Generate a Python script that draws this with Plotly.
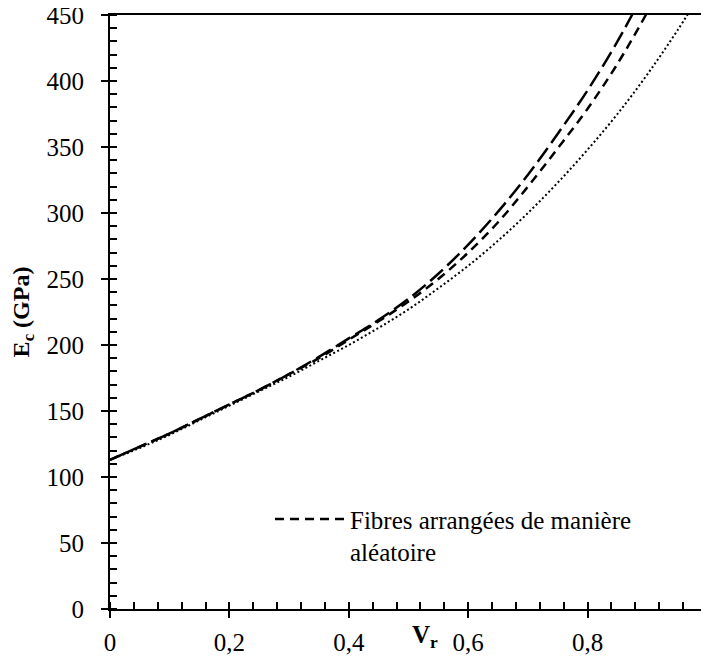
import plotly.graph_objects as go

# Data
vr = [0.0, 0.05, 0.10, 0.15, 0.20, 0.25, 0.30, 0.35, 0.40, 0.45, 0.50,
      0.55, 0.60, 0.65, 0.70, 0.75, 0.80, 0.85, 0.90, 0.95, 1.0]

ec_long = [113, 123, 133, 144, 155, 166, 178, 191, 205, 219, 235,
           254, 276, 301, 329, 360, 393, 430, 472, None, None]
ec_short = [113, 123, 133, 144, 155, 166, 178, 190, 204, 218, 233,
            250, 270, 293, 320, 349, 379, 413, 452, None, None]
ec_dot = [113, 122, 132, 143, 154, 165, 176, 188, 200, 213, 227,
          243, 260, 279, 300, 323, 348, 375, 405, 438, 474]

x_tickvals = [0, 0.2, 0.4, 0.6, 0.8, 1]
x_ticktext = ["0", "0,2", "0,4", "0,6", "0,8", "1"]
y_tickvals = [0, 50, 100, 150, 200, 250, 300, 350, 400, 450]

legend_label = "Fibres arrangées de manière<br>aléatoire"

FONT = "Liberation Serif, Times New Roman, DejaVu Serif, serif"

fig = go.Figure()
fig.add_trace(go.Scatter(x=vr, y=ec_long, mode="lines", showlegend=False,
                         line=dict(color="black", width=2.5, dash="17px,6px", shape="spline")))
fig.add_trace(go.Scatter(x=vr, y=ec_short, mode="lines", name=legend_label,
                         line=dict(color="black", width=2.5, dash="9px,6px", shape="spline")))
fig.add_trace(go.Scatter(x=vr, y=ec_dot, mode="lines", showlegend=False,
                         line=dict(color="black", width=2, dash="2px,2.5px", shape="spline")))
# invisible trace on overlay axes (for crossing major ticks)
fig.add_trace(go.Scatter(x=[0], y=[0], xaxis="x2", yaxis="y2", mode="markers",
                         marker=dict(opacity=0), showlegend=False, hoverinfo="skip"))

fig.update_layout(
    width=700, height=656,
    margin=dict(l=102, r=1, t=7, b=55, autoexpand=False),
    paper_bgcolor="white", plot_bgcolor="white",
    font=dict(family=FONT, size=25, color="black"),
    showlegend=True,
    legend=dict(x=0.268, y=0.19, xanchor="left", yanchor="top",
                bgcolor="rgba(0,0,0,0)", font=dict(size=25, family=FONT, color="black"),
                valign="top", itemwidth=70),
    xaxis=dict(range=[0, 1], tickvals=x_tickvals, ticktext=x_ticktext, automargin=False,
               showgrid=False, zeroline=False, showline=True, linecolor="black",
               linewidth=2, mirror=True, ticks="outside", ticklen=7, tickwidth=2,
               tickcolor="black", ticklabelstandoff=3, ticklabeloverflow="allow",
               tickfont=dict(size=25, family=FONT, color="black"),
               minor=dict(ticks="inside", dtick=0.04, ticklen=7, tickwidth=1.5,
                          tickcolor="black", showgrid=False)),
    yaxis=dict(range=[0, 450], tickvals=y_tickvals, automargin=False,
               showgrid=False, zeroline=False, showline=True, linecolor="black",
               linewidth=2, mirror=True, ticks="outside", ticklen=7, tickwidth=2,
               tickcolor="black", ticklabelstandoff=12, ticklabeloverflow="allow",
               tickfont=dict(size=25, family=FONT, color="black"),
               title=dict(text="<b>E<sub>c</sub> (GPa)</b>",
                          font=dict(size=24, family=FONT, color="black")),
               minor=dict(ticks="inside", dtick=10, ticklen=7, tickwidth=1.5,
                          tickcolor="black", showgrid=False)),
    xaxis2=dict(range=[0, 1], overlaying="x", tickvals=x_tickvals, showticklabels=False,
                automargin=False,
                ticks="inside", ticklen=7, tickwidth=2, tickcolor="black",
                showgrid=False, zeroline=False, showline=False),
    yaxis2=dict(range=[0, 450], overlaying="y", tickvals=y_tickvals, showticklabels=False,
                automargin=False,
                ticks="inside", ticklen=7, tickwidth=2, tickcolor="black",
                showgrid=False, zeroline=False, showline=False),
    annotations=[dict(text="<b>V<sub>r</sub></b>", x=0.528, y=-0.047,
                      xref="paper", yref="paper", xanchor="center", yanchor="middle",
                      showarrow=False, font=dict(size=25, family=FONT, color="black"))],
)

fig.write_html("out.html")
